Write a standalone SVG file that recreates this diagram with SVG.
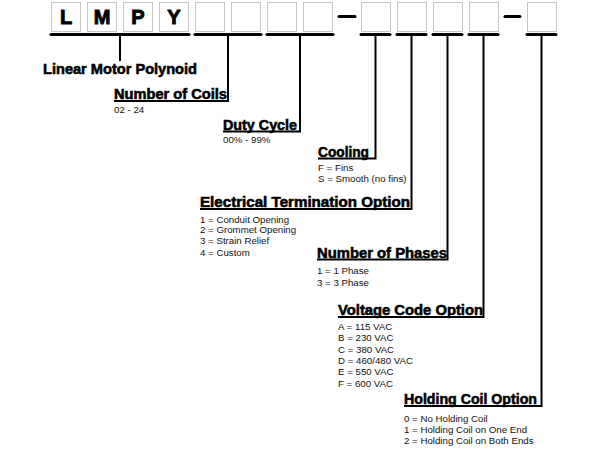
<svg xmlns="http://www.w3.org/2000/svg" width="600" height="450" viewBox="0 0 600 450">
  <style>
    .box { fill: #ffffff; stroke: #c6c6c6; stroke-width: 1; }
    .letter { font-family: "Liberation Sans", Arial, sans-serif; font-weight: bold; font-size: 20px; text-anchor: middle; fill: #000; stroke: #000; stroke-width: 0.9; }
    .bar { stroke: #000; stroke-width: 3; stroke-linecap: round; fill: none; }
    .lead { stroke: #000; stroke-width: 2; fill: none; }
    .head { font-family: "Liberation Sans", Arial, sans-serif; font-weight: bold; font-size: 14px; fill: #000; stroke: #000; stroke-width: 0.55; }
    .opt { font-family: "Liberation Sans", Arial, sans-serif; font-size: 9.7px; fill: #111; }
  </style>
  <rect width="600" height="450" fill="#ffffff"/>

  <!-- part number boxes -->
  <g id="code">
    <rect class="box" x="51.5" y="2.5" width="29" height="29"/>
    <rect class="box" x="87.5" y="2.5" width="29" height="29"/>
    <rect class="box" x="123.5" y="2.5" width="29" height="29"/>
    <rect class="box" x="159.5" y="2.5" width="29" height="29"/>
    <rect class="box" x="195.5" y="2.5" width="29" height="29"/>
    <rect class="box" x="231.5" y="2.5" width="29" height="29"/>
    <rect class="box" x="267.5" y="2.5" width="29" height="29"/>
    <rect class="box" x="303.5" y="2.5" width="29" height="29"/>
    <rect class="box" x="361.5" y="2.5" width="29" height="29"/>
    <rect class="box" x="397.5" y="2.5" width="29" height="29"/>
    <rect class="box" x="433.5" y="2.5" width="29" height="29"/>
    <rect class="box" x="469.5" y="2.5" width="29" height="29"/>
    <rect class="box" x="527.5" y="2.5" width="29" height="29"/>
    <text class="letter" x="66" y="23.8">L</text>
    <text class="letter" x="102" y="23.8">M</text>
    <text class="letter" x="138" y="23.8">P</text>
    <text class="letter" x="174" y="23.8">Y</text>
    <!-- separators -->
    <line class="bar" x1="339" y1="16.5" x2="355" y2="16.5"/>
    <line class="bar" x1="505" y1="16.5" x2="520" y2="16.5"/>
    <!-- field brackets -->
    <line class="bar" x1="51" y1="34.5" x2="189" y2="34.5"/>
    <line class="bar" x1="195" y1="34.5" x2="261" y2="34.5"/>
    <line class="bar" x1="267" y1="34.5" x2="333" y2="34.5"/>
    <line class="bar" x1="361" y1="34.5" x2="390" y2="34.5"/>
    <line class="bar" x1="397" y1="34.5" x2="426" y2="34.5"/>
    <line class="bar" x1="433" y1="34.5" x2="462" y2="34.5"/>
    <line class="bar" x1="469" y1="34.5" x2="498" y2="34.5"/>
    <line class="bar" x1="527" y1="34.5" x2="556" y2="34.5"/>
  </g>

  <!-- leader lines from each field to its label -->
  <g id="connectors">
    <path class="lead" d="M120,34.5 V61"/>
    <path class="lead" d="M228,34.5 V101 H114"/>
    <path class="lead" d="M300,34.5 V131.5 H223"/>
    <path class="lead" d="M375.5,34.5 V158.5 H318"/>
    <path class="lead" d="M411.5,34.5 V209 H200"/>
    <path class="lead" d="M447.5,34.5 V259.5 H317"/>
    <path class="lead" d="M483.5,34.5 V317 H338"/>
    <path class="lead" d="M541.5,34.5 V406 H404"/>
  </g>

  <g id="series">
    <text class="head" x="43" y="73.5" textLength="154" lengthAdjust="spacingAndGlyphs">Linear Motor Polynoid</text>
  </g>

  <g id="coils">
    <text class="head" x="114" y="99" textLength="113" lengthAdjust="spacingAndGlyphs">Number of Coils</text>
    <text class="opt" x="114" y="112.5">02 - 24</text>
  </g>

  <g id="duty-cycle">
    <text class="head" x="223" y="129.5" textLength="74" lengthAdjust="spacingAndGlyphs">Duty Cycle</text>
    <text class="opt" x="223" y="143" font-size="9.2">00% - 99%</text>
  </g>

  <g id="cooling">
    <text class="head" x="318" y="156.5" textLength="51" lengthAdjust="spacingAndGlyphs">Cooling</text>
    <text class="opt" x="318" y="170.5">F = Fins</text>
    <text class="opt" x="318" y="181.5">S = Smooth (no fins)</text>
  </g>

  <g id="termination">
    <text class="head" x="200" y="207" textLength="210" lengthAdjust="spacingAndGlyphs">Electrical Termination Option</text>
    <text class="opt" x="200" y="222.5">1 = Conduit Opening</text>
    <text class="opt" x="200" y="233.3">2 = Grommet Opening</text>
    <text class="opt" x="200" y="244.2">3 = Strain Relief</text>
    <text class="opt" x="200" y="255.5" font-size="9">4 = Custom</text>
  </g>

  <g id="phases">
    <text class="head" x="317" y="257.5" textLength="130" lengthAdjust="spacingAndGlyphs">Number of Phases</text>
    <text class="opt" x="317" y="274.3">1 = 1 Phase</text>
    <text class="opt" x="317" y="285.6">3 = 3 Phase</text>
  </g>

  <g id="voltage">
    <text class="head" x="338" y="315" textLength="145" lengthAdjust="spacingAndGlyphs">Voltage Code Option</text>
    <text class="opt" x="338" y="330">A = 115 VAC</text>
    <text class="opt" x="338" y="341.3">B = 230 VAC</text>
    <text class="opt" x="338" y="352.6">C = 380 VAC</text>
    <text class="opt" x="338" y="363.9">D = 460/480 VAC</text>
    <text class="opt" x="338" y="375.2">E = 550 VAC</text>
    <text class="opt" x="338" y="386.5">F = 600 VAC</text>
  </g>

  <g id="holding-coil">
    <text class="head" x="404" y="404" textLength="133" lengthAdjust="spacingAndGlyphs">Holding Coil Option</text>
    <text class="opt" x="404" y="421.5">0 = No Holding Coil</text>
    <text class="opt" x="404" y="433">1 = Holding Coil on One End</text>
    <text class="opt" x="404" y="444">2 = Holding Coil on Both Ends</text>
  </g>
</svg>
